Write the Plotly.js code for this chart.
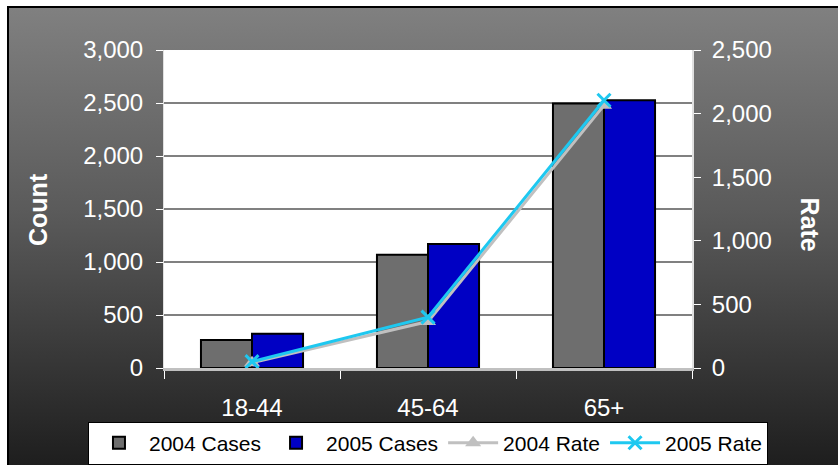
<!DOCTYPE html>
<html>
<head>
<meta charset="utf-8">
<script src="https://cdn.plot.ly/plotly-3.0.1.min.js"></script>
<style>
  html, body { margin: 0; padding: 0; background: #ffffff; }
  #bg { position: absolute; left: 7px; top: 6px; width: 829px; height: 457px;
        border-top: 2px solid #000; border-left: 2px solid #000;
        background: linear-gradient(#808080 0%, #5a5a5a 45%, #1e1e1e 100%); }
  #chart { position: absolute; left: 0; top: 0; width: 838px; height: 465px; }
</style>
</head>
<body>
<div id="bg"></div>
<div id="chart"></div>
<script>
const categories = ["18-44", "45-64", "65+"];
const cases2004 = [265, 1068, 2495];
const cases2005 = [322, 1170, 2525];
const rate2004 = [42, 365, 2065];
const rate2005 = [50, 400, 2105];
const leftTicks = [0, 500, 1000, 1500, 2000, 2500, 3000];
const rightTicks = [0, 500, 1000, 1500, 2000, 2500];

const traces = [
  { type: "bar", name: "2004 Cases", x: categories, y: cases2004,
    marker: { color: "#6e6e6e", line: { color: "#000", width: 2 } } },
  { type: "bar", name: "2005 Cases", x: categories, y: cases2005,
    marker: { color: "#0000c4", line: { color: "#000", width: 2 } } },
  { type: "scatter", mode: "lines+markers", name: "2004 Rate", x: categories, y: rate2004, yaxis: "y2",
    line: { color: "#c0c0c0", width: 3 },
    marker: { symbol: "triangle-up", size: 14, color: "#c0c0c0" } },
  { type: "scatter", mode: "lines+markers", name: "2005 Rate", x: categories, y: rate2005, yaxis: "y2",
    line: { color: "#1ec8f0", width: 3 },
    marker: { symbol: "x-thin", size: 13, color: "#1ec8f0", line: { color: "#1ec8f0", width: 3 } } }
];

const FONT = "Liberation Sans, Arial, sans-serif";
const tickFont = { family: FONT, size: 24, color: "#ffffff" };
const titleFont = { family: FONT, size: 25, color: "#ffffff", weight: "bold" };

const layout = {
  width: 838, height: 465,
  margin: { l: 164, r: 146, t: 50, b: 97, autoexpand: false },
  paper_bgcolor: "rgba(0,0,0,0)",
  plot_bgcolor: "#ffffff",
  barmode: "group", bargap: 0.42, bargroupgap: 0,
  showlegend: true,
  legend: {
    orientation: "h", xref: "paper", yref: "paper",
    x: -0.144, xanchor: "left", y: -0.236, yanchor: "middle",
    bgcolor: "#ffffff", bordercolor: "#000000", borderwidth: 1,
    font: { family: FONT, size: 21, color: "#000" },
    traceorder: "normal", itemwidth: 50
  },
  xaxis: {
    type: "category", tickfont: tickFont, ticks: "outside", tickson: "boundaries",
    ticklen: 8, tickcolor: "#ffffff", tickwidth: 1, ticklabelstandoff: 16,
    showline: true, linecolor: "#c0c0c0", linewidth: 3, showgrid: false, zeroline: false
  },
  yaxis: {
    range: [0, 3000], tickvals: leftTicks, tickformat: ",d",
    tickfont: tickFont, ticks: "outside", ticklen: 7, tickcolor: "#ffffff",
    ticklabelstandoff: 8,
    showline: true, linecolor: "#e0e0e0", linewidth: 1,
    showgrid: true, gridcolor: "#808080", gridwidth: 1.5, zeroline: false
  },
  yaxis2: {
    range: [0, 2500], tickvals: rightTicks, tickformat: ",d",
    overlaying: "y", side: "right",
    tickfont: tickFont, ticks: "outside", ticklen: 7, tickcolor: "#ffffff",
    ticklabelstandoff: 6,
    showline: true, linecolor: "#e0e0e0", linewidth: 2,
    showgrid: false, zeroline: false
  },
  annotations: [
    { text: "Count", xref: "paper", yref: "paper", x: -0.2386, y: 0.497,
      showarrow: false, textangle: -90, font: titleFont, xanchor: "center", yanchor: "middle" },
    { text: "Rate", xref: "paper", yref: "paper", x: 1.2235, y: 0.451,
      showarrow: false, textangle: 90, font: titleFont, xanchor: "center", yanchor: "middle" }
  ]
};

Plotly.newPlot("chart", traces, layout, { displayModeBar: false, staticPlot: true });
</script>
</body>
</html>
